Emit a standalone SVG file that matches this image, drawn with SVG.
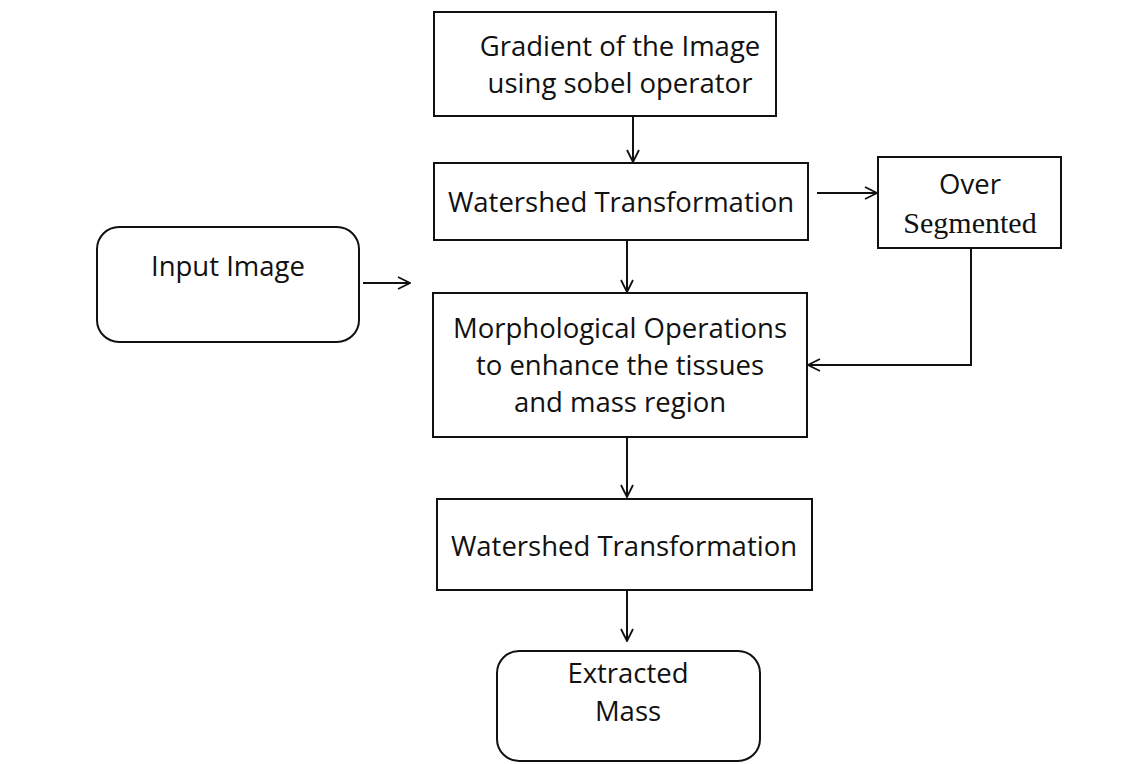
<svg xmlns="http://www.w3.org/2000/svg" width="1140" height="764" viewBox="0 0 1140 764">
<style>
.box{fill:#fff;stroke:#111;stroke-width:2}
.t{font-family:"Open Sans","Noto Sans",sans-serif;font-size:27.5px;fill:#111;text-anchor:middle}
.s{font-family:"Liberation Serif",serif;font-size:30px;fill:#111;text-anchor:middle}
.c{fill:none;stroke:#111;stroke-width:2}
</style>
<defs>
<marker id="ah" viewBox="0 0 14 14" refX="13" refY="7" markerWidth="14" markerHeight="14" markerUnits="userSpaceOnUse" orient="auto">
<path d="M1,1 L13,7 L1,13" fill="none" stroke="#111" stroke-width="1.8"/>
</marker>
</defs>
<rect width="1140" height="764" fill="#fff"/>
<g id="gradient">
<rect class="box" x="434" y="12" width="342" height="104"/>
<text class="t" x="620" y="56">Gradient of the Image</text>
<text class="t" x="620" y="93">using sobel operator</text>
</g>
<g id="watershed1">
<rect class="box" x="434" y="163" width="374" height="77"/>
<text class="t" x="621" y="212">Watershed Transformation</text>
</g>
<g id="oversegmented">
<rect class="box" x="878" y="157" width="183" height="91"/>
<text class="t" x="970" y="194">Over</text>
<text class="s" x="970" y="233">Segmented</text>
</g>
<g id="input">
<rect class="box" x="97" y="227" width="262" height="115" rx="22"/>
<text class="t" x="228" y="276">Input Image</text>
</g>
<g id="morph">
<rect class="box" x="433" y="293" width="374" height="144"/>
<text class="t" x="620" y="338">Morphological Operations</text>
<text class="t" x="620" y="375">to enhance the tissues</text>
<text class="t" x="620" y="412">and mass region</text>
</g>
<g id="watershed2">
<rect class="box" x="437" y="499" width="375" height="91"/>
<text class="t" x="624" y="556">Watershed Transformation</text>
</g>
<g id="extracted">
<rect class="box" x="497" y="651" width="263" height="110" rx="22"/>
<text class="t" x="628" y="683">Extracted</text>
<text class="t" x="628" y="721">Mass</text>
</g>
<g id="connectors">
<line class="c" x1="633" y1="116" x2="633" y2="162" marker-end="url(#ah)"/>
<line class="c" x1="817" y1="193" x2="877" y2="193" marker-end="url(#ah)"/>
<line class="c" x1="363" y1="283" x2="410" y2="283" marker-end="url(#ah)"/>
<line class="c" x1="627" y1="240" x2="627" y2="292" marker-end="url(#ah)"/>
<polyline class="c" points="971,248 971,365 808,365" marker-end="url(#ah)"/>
<line class="c" x1="627" y1="437" x2="627" y2="497" marker-end="url(#ah)"/>
<line class="c" x1="627" y1="590" x2="627" y2="641" marker-end="url(#ah)"/>
</g>
</svg>
